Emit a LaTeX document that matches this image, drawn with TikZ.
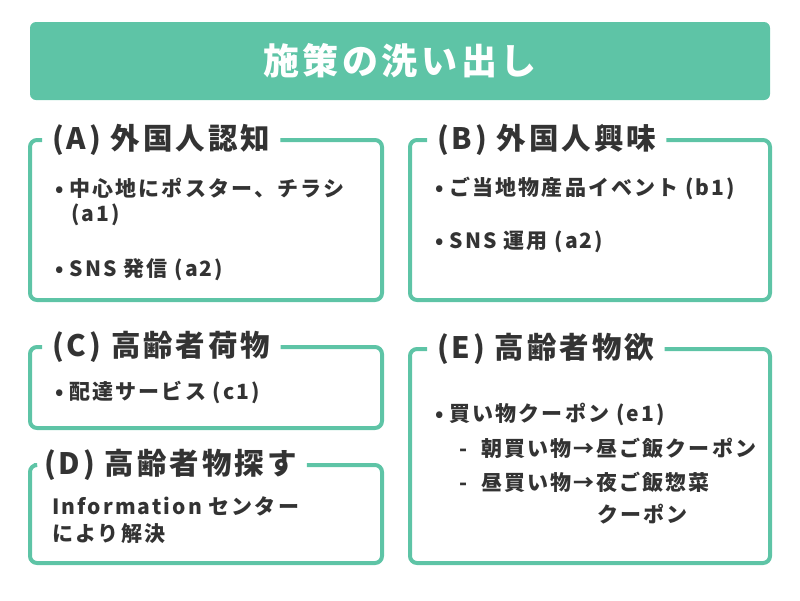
\documentclass[tikz,border=0pt]{standalone}
\usepackage{fontspec}
\setmainfont{Noto Sans CJK JP}[LetterSpace=10]
\definecolor{mint}{RGB}{94,196,166}
\definecolor{ink}{RGB}{51,51,51}
\newcommand{\bul}{•\hspace{6pt}}

\begin{document}
\begin{tikzpicture}[x=1pt,y=-1pt,
  frame/.style={draw=mint, line width=4pt, rounded corners=7pt},
  head/.style={anchor=west, inner xsep=10pt, text=ink, font=\fontsize{29.5}{34}\selectfont\bfseries},
  item/.style={anchor=west, inner sep=0pt, text=ink, font=\fontsize{21}{25}\selectfont\bfseries}]
\useasboundingbox (0,0) rectangle (800,600);

% title banner
\fill[mint, rounded corners=6pt] (30,22) rectangle (770,100);
\node[text=white, font=\fontsize{36}{42}\selectfont\bfseries] (title) at (400,61) {施策の洗い出し};

% (A)
\node[head] (ha) at (42,140) {(A) 外国人認知};
\draw[frame] (ha.east) -- (382,140) -- (382,300) -- (30,300) -- (30,140) -- (ha.west);
\node[item] (a1) at (55,188) {\bul 中心地にポスター、チラシ};
\node[item] (a1b) at (71,215) {(a1)};
\node[item] (a2) at (55,270) {\bul SNS 発信 (a2)};

% (B)
\node[head] (hb) at (427,140) {(B) 外国人興味};
\draw[frame] (hb.east) -- (770,140) -- (770,300) -- (410,300) -- (410,140) -- (hb.west);
\node[item] (b1) at (435,188) {\bul ご当地物産品イベント (b1)};
\node[item] (b2) at (435,242) {\bul SNS 運用 (a2)};

% (C)
\node[head] (hc) at (42,347) {(C) 高齢者荷物};
\draw[frame] (hc.east) -- (382,347) -- (382,428) -- (30,428) -- (30,347) -- (hc.west);
\node[item] (c1) at (55,392) {\bul 配達サービス (c1)};

% (D)
\node[head] (hd) at (34,465) {(D) 高齢者物探す};
\draw[frame] (hd.east) -- (382,465) -- (382,563) -- (30,563) -- (30,465) -- (hd.west);
\node[item] (d1) at (52,506) {Information センター};
\node[item] (d2) at (52,534) {により解決};

% (E)
\node[head] (he) at (427,349) {(E) 高齢者物欲};
\draw[frame] (he.east) -- (770,349) -- (770,563) -- (410,563) -- (410,349) -- (he.west);
\node[item] (e1) at (435,414) {\bul 買い物クーポン (e1)};
\node[item] (e2) at (459,448) {-\ \ 朝買い物→昼ご飯クーポン};
\node[item] (e3) at (459,482) {-\ \ 昼買い物→夜ご飯惣菜};
\node[item] (e4) at (597,514) {クーポン};
\end{tikzpicture}
\end{document}
